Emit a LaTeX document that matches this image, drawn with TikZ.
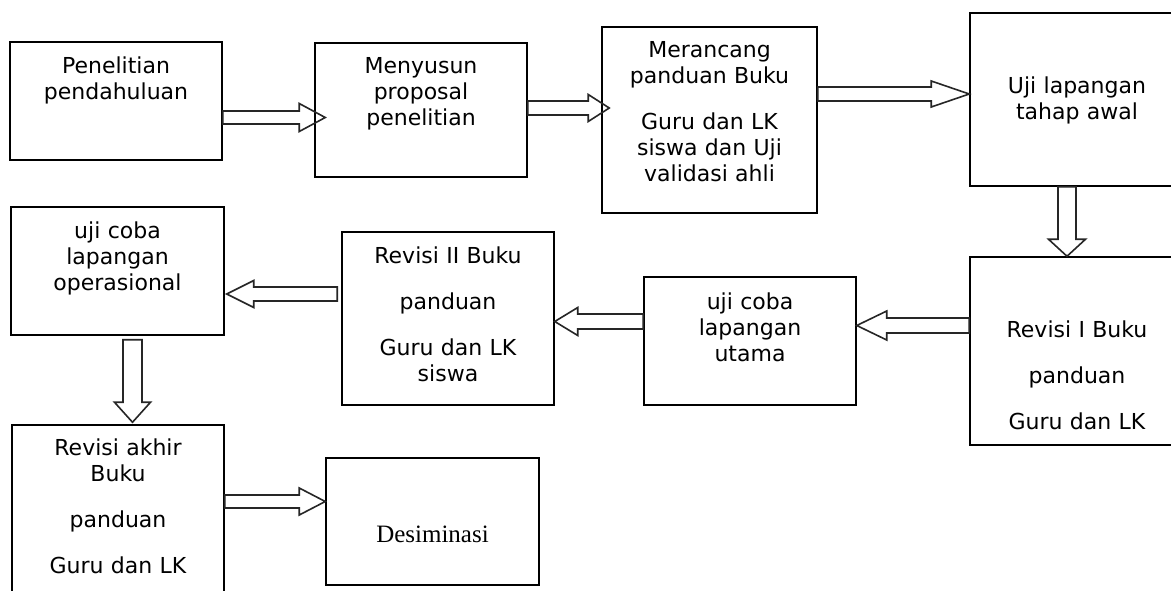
\documentclass[tikz,border=0pt]{standalone}
\usepackage{fontspec}
\setmainfont{DejaVu Sans}
\newfontfamily\deserif{Liberation Serif}
\usetikzlibrary{calc}
\tikzset{
  box/.style={draw=black, line width=1.5pt, inner sep=0pt},
  txt/.style={text width=205pt, align=center, anchor=base, inner sep=0pt, font=\fontsize{22}{26}\selectfont},
  barrow/.style={draw=black!85, line width=1.6pt, line join=miter},
}
\newcommand\blk[5]{%
  \coordinate (bb) at ($(#2)!#5!(#1)$);
  \draw[barrow] ($(#1)!#3!90:(#2)$) -- ($(bb)!#3!90:(#2)$) -- ($(bb)!#4!90:(#2)$) -- (#2)
    -- ($(bb)!#4!-90:(#2)$) -- ($(bb)!#3!-90:(#2)$) -- ($(#1)!#3!-90:(#2)$) -- cycle;}
\begin{document}
\begin{tikzpicture}[x=1pt,y=1pt]
\clip (0,0) rectangle (1171,-590);
\fill[white] (0,0) rectangle (1171,-590);
% boxes
\node[box, minimum width=212pt, minimum height=118pt] (b1) at (116,-101) {};
\node[box, minimum width=212pt, minimum height=134pt] (b2) at (421,-110) {};
\node[box, minimum width=215pt, minimum height=186pt] (b3) at (709.5,-120) {};
\node[box, minimum width=214pt, minimum height=173pt] (b4) at (1077,-99.5) {};
\node[box, minimum width=214pt, minimum height=188pt] (b5) at (1077,-351) {};
\node[box, minimum width=212pt, minimum height=128pt] (b6) at (750,-341) {};
\node[box, minimum width=212pt, minimum height=173pt] (b7) at (448,-318.5) {};
\node[box, minimum width=213pt, minimum height=128pt] (b8) at (117.5,-271) {};
\node[box, minimum width=212pt, minimum height=200pt] (b9) at (118,-525) {};
\node[box, minimum width=213pt, minimum height=127pt] (b10) at (432.5,-521.5) {};
% texts
\node[txt] (l1) at (116,-73) {Penelitian\\pendahuluan};
\node[txt] (l2) at (421,-73) {Menyusun\\proposal\\penelitian};
\node[txt] (l3) at (709.5,-57) {Merancang\\panduan Buku\\[20pt]Guru dan LK\\siswa dan Uji\\validasi ahli};
\node[txt] (l4) at (1077,-93) {Uji lapangan\\tahap awal};
\node[txt] (l5) at (1077,-337) {Revisi I Buku\\[20pt]panduan\\[20pt]Guru dan LK};
\node[txt] (l6) at (750,-309) {uji coba\\lapangan\\utama};
\node[txt] (l7) at (448,-263) {Revisi II Buku\\[20pt]panduan\\[20pt]Guru dan LK\\siswa};
\node[txt] (l8) at (117.5,-238) {uji coba\\lapangan\\operasional};
\node[txt] (l9) at (118,-455) {Revisi akhir\\Buku\\[20pt]panduan\\[20pt]Guru dan LK};
\node[anchor=base, inner sep=0pt, font=\deserif\fontsize{25}{29}\selectfont] (l10) at (432.5,-542) {Desiminasi};
% connector end points
\coordinate (t1) at (b1.east |- 0,-117.5);
\coordinate (p1) at ([xshift=11pt]b2.west |- 0,-117.5);
\coordinate (t2) at (b2.east |- 0,-108);
\coordinate (p2) at ([xshift=8pt]b3.west |- 0,-108);
\coordinate (t3) at (b3.east |- 0,-94);
\coordinate (p3) at (b4.west |- 0,-94);
\coordinate (t4) at (b4.south -| 1067,0);
\coordinate (p4) at (b5.north -| 1067,0);
\coordinate (t5) at (b5.west |- 0,-325.5);
\coordinate (p5) at (b6.east |- 0,-325.5);
\coordinate (t6) at (b6.west |- 0,-321.5);
\coordinate (p6) at (b7.east |- 0,-321.5);
\coordinate (t7) at ([xshift=-4pt]b7.west |- 0,-294);
\coordinate (p7) at ([xshift=2pt]b8.east |- 0,-294);
\coordinate (t8) at ([yshift=-4pt]b8.south -| 132.5,0);
\coordinate (p8) at ([yshift=2pt]b9.north -| 132.5,0);
\coordinate (t9) at (b9.east |- 0,-501.5);
\coordinate (p9) at (b10.west |- 0,-501.5);
% block arrows
\blk{t1}{p1}{6.5pt}{14pt}{26pt}
\blk{t2}{p2}{7pt}{13.5pt}{21pt}
\blk{t3}{p3}{7pt}{13pt}{38pt}
\blk{t4}{p4}{9pt}{18.5pt}{17pt}
\blk{t5}{p5}{7.5pt}{14.5pt}{30pt}
\blk{t6}{p6}{7.5pt}{14pt}{23pt}
\blk{t7}{p7}{7pt}{13.5pt}{27pt}
\blk{t8}{p8}{9.5pt}{18pt}{20pt}
\blk{t9}{p9}{6.5pt}{13.5pt}{26pt}
\end{tikzpicture}
\end{document}
